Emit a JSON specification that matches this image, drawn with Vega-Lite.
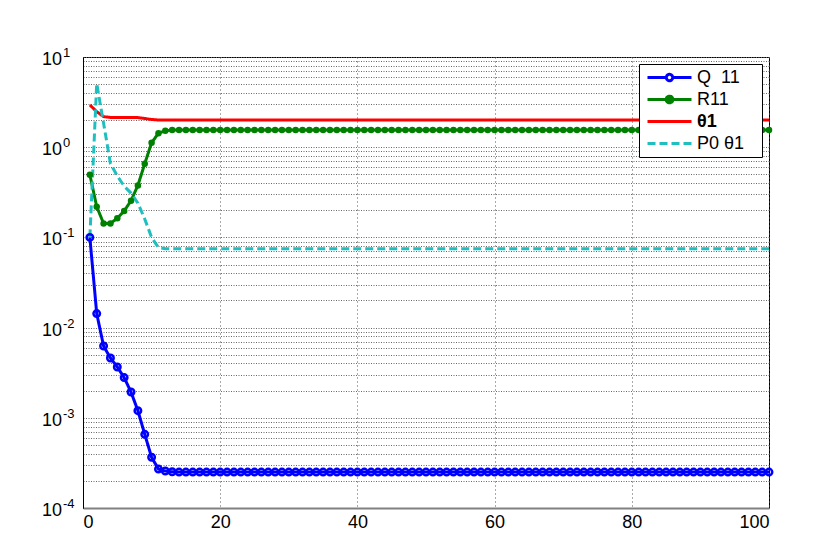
{
  "$schema": "https://vega.github.io/schema/vega-lite/v6.json",
  "width": 686,
  "height": 451,
  "autosize": {"type": "none"},
  "padding": {"left": 83, "top": 57, "right": 61, "bottom": 45},
  "background": "white",
  "config": {
    "view": {"stroke": "black", "strokeWidth": 1},
    "font": "Liberation Sans"
  },
  "datasets": {
    "ticks": [
      {"v": 10, "e": "1"},
      {"v": 1, "e": "0"},
      {"v": 0.1, "e": "-1"},
      {"v": 0.01, "e": "-2"},
      {"v": 0.001, "e": "-3"},
      {"v": 0.0001, "e": "-4"}
    ],
    "main": [
      {"x": 1, "q": 0.1, "r": 0.496, "t": 2.94, "p": 0.1},
      {"x": 2, "q": 0.0143, "r": 0.219, "t": 2.48, "p": 5.1},
      {"x": 3, "q": 0.00625, "r": 0.143, "t": 2.18, "p": 1.84},
      {"x": 4, "q": 0.0046, "r": 0.143, "t": 2.14, "p": 0.66},
      {"x": 5, "q": 0.00366, "r": 0.163, "t": 2.14, "p": 0.48},
      {"x": 6, "q": 0.00279, "r": 0.196, "t": 2.14, "p": 0.37},
      {"x": 7, "q": 0.00193, "r": 0.255, "t": 2.14, "p": 0.31},
      {"x": 8, "q": 0.0012, "r": 0.377, "t": 2.13, "p": 0.24},
      {"x": 9, "q": 0.000656, "r": 0.656, "t": 2.08, "p": 0.16},
      {"x": 10, "q": 0.000365, "r": 1.12, "t": 2.03, "p": 0.1},
      {"x": 11, "q": 0.00027, "r": 1.43, "t": 2.0, "p": 0.077},
      {"x": 12, "q": 0.000257, "r": 1.52, "t": 2.0, "p": 0.075},
      {"x": 13, "q": 0.000252, "r": 1.55, "t": 2.0, "p": 0.075},
      {"x": 14, "q": 0.00025, "r": 1.55, "t": 2.0, "p": 0.075},
      {"x": 15, "q": 0.00025, "r": 1.55, "t": 2.0, "p": 0.075},
      {"x": 16, "q": 0.00025, "r": 1.55, "t": 2.0, "p": 0.075},
      {"x": 17, "q": 0.00025, "r": 1.55, "t": 2.0, "p": 0.075},
      {"x": 18, "q": 0.00025, "r": 1.55, "t": 2.0, "p": 0.075},
      {"x": 19, "q": 0.00025, "r": 1.55, "t": 2.0, "p": 0.075},
      {"x": 20, "q": 0.00025, "r": 1.55, "t": 2.0, "p": 0.075},
      {"x": 21, "q": 0.00025, "r": 1.55, "t": 2.0, "p": 0.075},
      {"x": 22, "q": 0.00025, "r": 1.55, "t": 2.0, "p": 0.075},
      {"x": 23, "q": 0.00025, "r": 1.55, "t": 2.0, "p": 0.075},
      {"x": 24, "q": 0.00025, "r": 1.55, "t": 2.0, "p": 0.075},
      {"x": 25, "q": 0.00025, "r": 1.55, "t": 2.0, "p": 0.075},
      {"x": 26, "q": 0.00025, "r": 1.55, "t": 2.0, "p": 0.075},
      {"x": 27, "q": 0.00025, "r": 1.55, "t": 2.0, "p": 0.075},
      {"x": 28, "q": 0.00025, "r": 1.55, "t": 2.0, "p": 0.075},
      {"x": 29, "q": 0.00025, "r": 1.55, "t": 2.0, "p": 0.075},
      {"x": 30, "q": 0.00025, "r": 1.55, "t": 2.0, "p": 0.075},
      {"x": 31, "q": 0.00025, "r": 1.55, "t": 2.0, "p": 0.075},
      {"x": 32, "q": 0.00025, "r": 1.55, "t": 2.0, "p": 0.075},
      {"x": 33, "q": 0.00025, "r": 1.55, "t": 2.0, "p": 0.075},
      {"x": 34, "q": 0.00025, "r": 1.55, "t": 2.0, "p": 0.075},
      {"x": 35, "q": 0.00025, "r": 1.55, "t": 2.0, "p": 0.075},
      {"x": 36, "q": 0.00025, "r": 1.55, "t": 2.0, "p": 0.075},
      {"x": 37, "q": 0.00025, "r": 1.55, "t": 2.0, "p": 0.075},
      {"x": 38, "q": 0.00025, "r": 1.55, "t": 2.0, "p": 0.075},
      {"x": 39, "q": 0.00025, "r": 1.55, "t": 2.0, "p": 0.075},
      {"x": 40, "q": 0.00025, "r": 1.55, "t": 2.0, "p": 0.075},
      {"x": 41, "q": 0.00025, "r": 1.55, "t": 2.0, "p": 0.075},
      {"x": 42, "q": 0.00025, "r": 1.55, "t": 2.0, "p": 0.075},
      {"x": 43, "q": 0.00025, "r": 1.55, "t": 2.0, "p": 0.075},
      {"x": 44, "q": 0.00025, "r": 1.55, "t": 2.0, "p": 0.075},
      {"x": 45, "q": 0.00025, "r": 1.55, "t": 2.0, "p": 0.075},
      {"x": 46, "q": 0.00025, "r": 1.55, "t": 2.0, "p": 0.075},
      {"x": 47, "q": 0.00025, "r": 1.55, "t": 2.0, "p": 0.075},
      {"x": 48, "q": 0.00025, "r": 1.55, "t": 2.0, "p": 0.075},
      {"x": 49, "q": 0.00025, "r": 1.55, "t": 2.0, "p": 0.075},
      {"x": 50, "q": 0.00025, "r": 1.55, "t": 2.0, "p": 0.075},
      {"x": 51, "q": 0.00025, "r": 1.55, "t": 2.0, "p": 0.075},
      {"x": 52, "q": 0.00025, "r": 1.55, "t": 2.0, "p": 0.075},
      {"x": 53, "q": 0.00025, "r": 1.55, "t": 2.0, "p": 0.075},
      {"x": 54, "q": 0.00025, "r": 1.55, "t": 2.0, "p": 0.075},
      {"x": 55, "q": 0.00025, "r": 1.55, "t": 2.0, "p": 0.075},
      {"x": 56, "q": 0.00025, "r": 1.55, "t": 2.0, "p": 0.075},
      {"x": 57, "q": 0.00025, "r": 1.55, "t": 2.0, "p": 0.075},
      {"x": 58, "q": 0.00025, "r": 1.55, "t": 2.0, "p": 0.075},
      {"x": 59, "q": 0.00025, "r": 1.55, "t": 2.0, "p": 0.075},
      {"x": 60, "q": 0.00025, "r": 1.55, "t": 2.0, "p": 0.075},
      {"x": 61, "q": 0.00025, "r": 1.55, "t": 2.0, "p": 0.075},
      {"x": 62, "q": 0.00025, "r": 1.55, "t": 2.0, "p": 0.075},
      {"x": 63, "q": 0.00025, "r": 1.55, "t": 2.0, "p": 0.075},
      {"x": 64, "q": 0.00025, "r": 1.55, "t": 2.0, "p": 0.075},
      {"x": 65, "q": 0.00025, "r": 1.55, "t": 2.0, "p": 0.075},
      {"x": 66, "q": 0.00025, "r": 1.55, "t": 2.0, "p": 0.075},
      {"x": 67, "q": 0.00025, "r": 1.55, "t": 2.0, "p": 0.075},
      {"x": 68, "q": 0.00025, "r": 1.55, "t": 2.0, "p": 0.075},
      {"x": 69, "q": 0.00025, "r": 1.55, "t": 2.0, "p": 0.075},
      {"x": 70, "q": 0.00025, "r": 1.55, "t": 2.0, "p": 0.075},
      {"x": 71, "q": 0.00025, "r": 1.55, "t": 2.0, "p": 0.075},
      {"x": 72, "q": 0.00025, "r": 1.55, "t": 2.0, "p": 0.075},
      {"x": 73, "q": 0.00025, "r": 1.55, "t": 2.0, "p": 0.075},
      {"x": 74, "q": 0.00025, "r": 1.55, "t": 2.0, "p": 0.075},
      {"x": 75, "q": 0.00025, "r": 1.55, "t": 2.0, "p": 0.075},
      {"x": 76, "q": 0.00025, "r": 1.55, "t": 2.0, "p": 0.075},
      {"x": 77, "q": 0.00025, "r": 1.55, "t": 2.0, "p": 0.075},
      {"x": 78, "q": 0.00025, "r": 1.55, "t": 2.0, "p": 0.075},
      {"x": 79, "q": 0.00025, "r": 1.55, "t": 2.0, "p": 0.075},
      {"x": 80, "q": 0.00025, "r": 1.55, "t": 2.0, "p": 0.075},
      {"x": 81, "q": 0.00025, "r": 1.55, "t": 2.0, "p": 0.075},
      {"x": 82, "q": 0.00025, "r": 1.55, "t": 2.0, "p": 0.075},
      {"x": 83, "q": 0.00025, "r": 1.55, "t": 2.0, "p": 0.075},
      {"x": 84, "q": 0.00025, "r": 1.55, "t": 2.0, "p": 0.075},
      {"x": 85, "q": 0.00025, "r": 1.55, "t": 2.0, "p": 0.075},
      {"x": 86, "q": 0.00025, "r": 1.55, "t": 2.0, "p": 0.075},
      {"x": 87, "q": 0.00025, "r": 1.55, "t": 2.0, "p": 0.075},
      {"x": 88, "q": 0.00025, "r": 1.55, "t": 2.0, "p": 0.075},
      {"x": 89, "q": 0.00025, "r": 1.55, "t": 2.0, "p": 0.075},
      {"x": 90, "q": 0.00025, "r": 1.55, "t": 2.0, "p": 0.075},
      {"x": 91, "q": 0.00025, "r": 1.55, "t": 2.0, "p": 0.075},
      {"x": 92, "q": 0.00025, "r": 1.55, "t": 2.0, "p": 0.075},
      {"x": 93, "q": 0.00025, "r": 1.55, "t": 2.0, "p": 0.075},
      {"x": 94, "q": 0.00025, "r": 1.55, "t": 2.0, "p": 0.075},
      {"x": 95, "q": 0.00025, "r": 1.55, "t": 2.0, "p": 0.075},
      {"x": 96, "q": 0.00025, "r": 1.55, "t": 2.0, "p": 0.075},
      {"x": 97, "q": 0.00025, "r": 1.55, "t": 2.0, "p": 0.075},
      {"x": 98, "q": 0.00025, "r": 1.55, "t": 2.0, "p": 0.075},
      {"x": 99, "q": 0.00025, "r": 1.55, "t": 2.0, "p": 0.075},
      {"x": 100, "q": 0.00025, "r": 1.55, "t": 2.0, "p": 0.075}
    ]
  },
  "data": {"name": "main"},
  "layer": [
    {
      "transform": [{"fold": ["q", "r", "t", "p"], "as": ["s", "v"]}],
      "mark": {"type": "line", "clip": true},
      "encoding": {
        "x": {
          "field": "x",
          "type": "quantitative",
          "scale": {"domain": [0, 100], "nice": false},
          "axis": {
            "title": null,
            "values": [0, 20, 40, 60, 80, 100],
            "labelFont": "Liberation Sans",
            "labelFontSize": 18,
            "labelColor": "black",
            "labelPadding": 5,
            "ticks": false,
            "domainColor": "#808080",
            "domainWidth": 2,
            "grid": true,
            "gridColor": "#555555",
            "gridDash": [1, 3],
            "gridWidth": 1
          }
        },
        "y": {
          "field": "v",
          "type": "quantitative",
          "scale": {"type": "log", "domain": [0.0001, 10], "nice": false},
          "axis": {
            "title": null,
            "values": [0.0001, 0.0002, 0.0003, 0.0004, 0.0005, 0.0006, 0.0007, 0.0008, 0.0009, 0.001, 0.002, 0.003, 0.004, 0.005, 0.006, 0.007, 0.008, 0.009, 0.01, 0.02, 0.03, 0.04, 0.05, 0.06, 0.07, 0.08, 0.09, 0.1, 0.2, 0.3, 0.4, 0.5, 0.6, 0.7, 0.8, 0.9, 1, 2, 3, 4, 5, 6, 7, 8, 9, 10],
            "labels": false,
            "ticks": false,
            "domainColor": "black",
            "domainWidth": 1,
            "grid": true,
            "gridColor": "#666666",
            "gridDash": [1, 1.5],
            "gridWidth": 1
          }
        },
        "color": {
          "field": "s",
          "type": "nominal",
          "scale": {"domain": ["q", "r", "t", "p"], "range": ["#0000ff", "#008000", "#ff0000", "#1fbfbf"]},
          "legend": {
            "title": null,
            "orient": "top-right",
            "offset": 7,
            "fillColor": "white",
            "strokeColor": "black",
            "padding": 4,
            "symbolType": "stroke",
            "symbolSize": 256,
            "symbolStrokeWidth": 2.5,
            "symbolOffset": 17,
            "labelFont": "Liberation Sans",
            "labelFontSize": 18,
            "labelColor": "black",
            "labelOffset": 18,
            "rowPadding": 3,
            "labelExpr": "{'q':'Q\u00a0\u00a011','r':'R11','t':'θ1','p':'P0 θ1\u2800'}[datum.value]",
            "encode": {
              "symbols": {
                "update": {
                  "shape": {"signal": "datum.value === 'q' ? 'M-2.75,0H-0.4M0.4,0H2.75M-0.4,0A0.4,0.4 0 1,0 0.4,0A0.4,0.4 0 1,0 -0.4,0' : datum.value === 'r' ? 'M-2.75,0H2.75M-0.42,0A0.42,0.42 0 1,0 0.42,0A0.42,0.42 0 1,0 -0.42,0' : 'M-2.75,0H2.75'"},
                  "fill": {"signal": "datum.value === 'r' ? '#008000' : 'transparent'"}
                }
              },
              "labels": {
                "update": {
                  "fontWeight": {"signal": "datum.value === 't' ? 'bold' : 'normal'"}
                }
              }
            }
          }
        },
        "strokeDash": {
          "field": "s",
          "type": "nominal",
          "scale": {"domain": ["q", "r", "t", "p"], "range": [[1, 0], [1, 0], [1, 0], [8, 4]]},
          "legend": null
        },
        "strokeWidth": {
          "field": "s",
          "type": "nominal",
          "scale": {"domain": ["q", "r", "t", "p"], "range": [3, 3, 2.5, 2.5]},
          "legend": null
        }
      }
    },
    {
      "transform": [{"fold": ["q"], "as": ["s", "v"]}],
      "mark": {"type": "point", "shape": "circle", "filled": false, "color": "#0000ff", "size": 42, "strokeWidth": 2.5, "opacity": 1},
      "encoding": {
        "x": {"field": "x", "type": "quantitative"},
        "y": {"field": "v", "type": "quantitative"}
      }
    },
    {
      "transform": [{"fold": ["r"], "as": ["s", "v"]}],
      "mark": {"type": "point", "shape": "circle", "filled": true, "color": "#008000", "size": 42, "opacity": 1},
      "encoding": {
        "x": {"field": "x", "type": "quantitative"},
        "y": {"field": "v", "type": "quantitative"}
      }
    },
    {
      "data": {"name": "ticks"},
      "mark": {"type": "text", "align": "right", "baseline": "alphabetic", "dx": -21, "dy": 8, "fontSize": 18, "font": "Liberation Sans", "color": "black"},
      "encoding": {
        "x": {"datum": 0, "type": "quantitative"},
        "y": {"field": "v", "type": "quantitative"},
        "text": {"value": "10"}
      }
    },
    {
      "data": {"name": "ticks"},
      "mark": {"type": "text", "align": "left", "baseline": "alphabetic", "dx": -20, "dy": 0, "fontSize": 13, "font": "Liberation Sans", "color": "black"},
      "encoding": {
        "x": {"datum": 0, "type": "quantitative"},
        "y": {"field": "v", "type": "quantitative"},
        "text": {"field": "e"}
      }
    }
  ]
}
